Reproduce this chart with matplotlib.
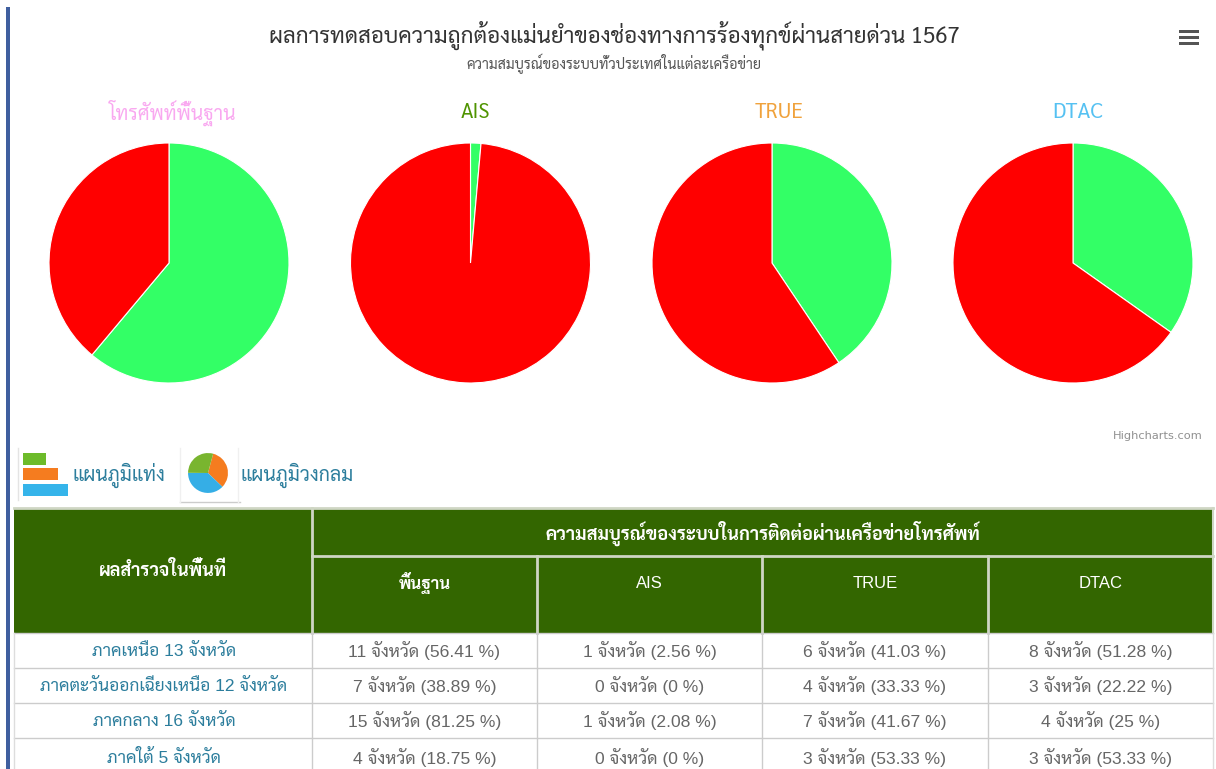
import matplotlib
matplotlib.use('Agg')
import logging
import matplotlib.pyplot as plt
from matplotlib.patches import Rectangle

logging.getLogger('matplotlib.font_manager').setLevel(logging.ERROR)

W, H = 1216, 769
FONT = ['Liberation Sans', 'Sarabun', 'IBM Plex Sans Thai', 'DejaVu Sans']
THAI = ['Sarabun', 'IBM Plex Sans Thai', 'DejaVu Sans']

title = 'ผลการทดสอบความถูกต้องแม่นยำของช่องทางการร้องทุกข์ผ่านสายด่วน 1567'
subtitle = 'ความสมบูรณ์ของระบบทั่วประเทศในแต่ละเครือข่าย'
pie_names = ['โทรศัพท์พื้นฐาน', 'AIS', 'TRUE', 'DTAC']
pie_title_colors = ['#f9a8f0', '#4f9400', '#f0a23c', '#55c1f2']
pie_green = [61.1, 1.4, 40.6, 34.8]
pie_red = [38.9, 98.6, 59.4, 65.2]

bar_link = 'แผนภูมิแท่ง'
pie_link = 'แผนภูมิวงกลม'
icon_pie = [33, 38, 29]

head_left = 'ผลสำรวจในพื้นที่'
head_top = 'ความสมบูรณ์ของระบบในการติดต่อผ่านเครือข่ายโทรศัพท์'
head_cols = ['พื้นฐาน', 'AIS', 'TRUE', 'DTAC']
regions = ['ภาคเหนือ 13 จังหวัด', 'ภาคตะวันออกเฉียงเหนือ 12 จังหวัด',
           'ภาคกลาง 16 จังหวัด', 'ภาคใต้ 5 จังหวัด']
row_basic = ['11 จังหวัด (56.41 %)', '7 จังหวัด (38.89 %)', '15 จังหวัด (81.25 %)', '4 จังหวัด (18.75 %)']
row_ais = ['1 จังหวัด (2.56 %)', '0 จังหวัด (0 %)', '1 จังหวัด (2.08 %)', '0 จังหวัด (0 %)']
row_true = ['6 จังหวัด (41.03 %)', '4 จังหวัด (33.33 %)', '7 จังหวัด (41.67 %)', '3 จังหวัด (53.33 %)']
row_dtac = ['8 จังหวัด (51.28 %)', '3 จังหวัด (22.22 %)', '4 จังหวัด (25 %)', '3 จังหวัด (53.33 %)']

fig = plt.figure(figsize=(W / 100, H / 100), dpi=100, facecolor='white')

# pixel canvas for everything that is not a pie
bg = fig.add_axes([0, 0, 1, 1])
bg.set_xlim(0, W)
bg.set_ylim(H, 0)
bg.axis('off')


def px_axes(cx, cy, r):
    ax = fig.add_axes([(cx - r) / W, 1 - (cy + r) / H, 2 * r / W, 2 * r / H])
    ax.set_xlim(-1, 1)
    ax.set_ylim(-1, 1)
    ax.axis('off')
    return ax


def rect(x0, y0, x1, y1, color):
    bg.add_patch(Rectangle((x0, y0), x1 - x0, y1 - y0, facecolor=color, edgecolor='none'))


# left page border
rect(6, 7, 10, H, '#3f5f9f')

bg.text(614, 35, title, fontsize=16.1, color='#333333', ha='center', va='center', family=THAI)
bg.text(614, 64, subtitle, fontsize=10.3, color='#555555', ha='center', va='center', family=THAI)

# hamburger menu
for y in (31, 37, 43):
    rect(1179, y - 1.5, 1199, y + 1.5, '#555555')

# --- Pies ---
centers = [169, 470.5, 772, 1073]
name_x = [173, 475, 779, 1078]
name_size = [14, 15, 15, 15.5]
for i, cx in enumerate(centers):
    ax = px_axes(cx, 263, 122)
    ax.pie([pie_green[i], pie_red[i]], colors=['#33ff66', '#ff0000'], startangle=90,
           counterclock=False, radius=120 / 122, wedgeprops={'edgecolor': 'white', 'linewidth': 0.8})
    ax.set_xlim(-1, 1)
    ax.set_ylim(-1, 1)
    bg.text(name_x[i], 113, pie_names[i], fontsize=name_size[i], color=pie_title_colors[i],
            ha='center', va='center', family=THAI)

bg.text(1203, 436, 'Highcharts.com', fontsize=8.2, color='#909090', ha='right', va='center',
        family=['DejaVu Sans'])

# --- Icons and links ---
rect(23, 453, 46, 465, '#6dbb2a')
rect(23, 468, 58, 480, '#f57c1f')
rect(23, 484, 68, 496, '#35b4ea')
bg.plot([18, 18], [448, 500], color='#e4e4e4', lw=1)
bg.plot([180, 240], [502, 502], color='#cccccc', lw=1)
bg.plot([180, 180], [448, 502], color='#f0f0f0', lw=1)
bg.plot([238, 238], [448, 502], color='#f0f0f0', lw=1)
icon = px_axes(208, 473, 21)
icon.pie(icon_pie, colors=['#f57c1f', '#35aee6', '#79b52f'], startangle=75, counterclock=False, radius=0.95)
icon.set_xlim(-1, 1)
icon.set_ylim(-1, 1)
bg.text(73, 475, bar_link, fontsize=14, color='#2b7d9c', ha='left', va='center', family=THAI)
bg.text(240, 475, pie_link, fontsize=14, color='#2b7d9c', ha='left', va='center', family=THAI)

# --- Table ---
xs = [14, 312, 537, 762, 988, 1213]
ys = [508, 556, 633, 668, 703, 738, 776]
green = '#336600'
rect(xs[0], ys[0], xs[-1], ys[2], green)
line = '#cfd6c4'
grid = '#cccccc'
bg.plot([xs[0], xs[-1]], [ys[0], ys[0]], color=line, lw=2)
bg.plot([xs[1], xs[-1]], [ys[1], ys[1]], color=line, lw=2)
bg.plot([xs[1], xs[1]], [ys[0], ys[2]], color=line, lw=2)
for x in xs[2:5]:
    bg.plot([x, x], [ys[1], ys[2]], color=line, lw=2)
bg.plot([xs[-1], xs[-1]], [ys[0], ys[2]], color=line, lw=1.5)
for y in ys[2:6]:
    bg.plot([xs[0], xs[-1]], [y, y], color=grid, lw=1)
for x in xs:
    bg.plot([x, x], [ys[2], ys[-1]], color='#dddddd' if x in (xs[0], xs[-1]) else grid, lw=1)

bg.text(163, 571, head_left, fontsize=13, color='white', weight='bold', ha='center', va='center', family=THAI)
bg.text(763, 533, head_top, fontsize=13.1, color='white', weight='bold', ha='center', va='center', family=THAI)
for i, name in enumerate(head_cols):
    bg.text((xs[i + 1] + xs[i + 2]) / 2, 583, name, fontsize=12, color='white',
            ha='center', va='center', family=FONT, weight='bold' if i == 0 else 'normal')

for r, name in enumerate(regions):
    y = (ys[r + 2] + ys[r + 3]) / 2 + 0.5
    bg.text(164, y, name, fontsize=12.5, color='#2b7d9c', ha='center', va='center', family=FONT)
    for c, col in enumerate([row_basic, row_ais, row_true, row_dtac]):
        bg.text((xs[c + 1] + xs[c + 2]) / 2, y, col[r], fontsize=12.6, color='#666666',
                ha='center', va='center', family=FONT)

fig.savefig('out.png', dpi=100)
